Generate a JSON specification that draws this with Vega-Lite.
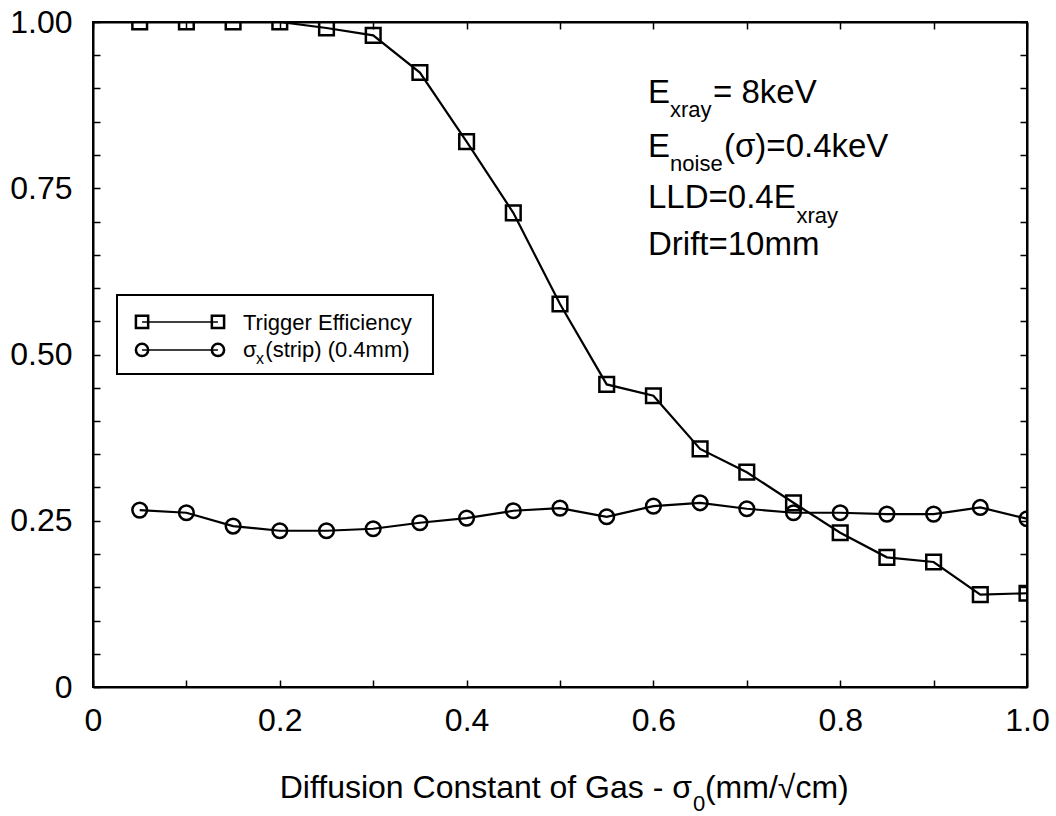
{
  "$schema": "https://vega.github.io/schema/vega-lite/v6.json",
  "width": 934,
  "height": 665,
  "autosize": {"type": "none"},
  "padding": {"left": 93, "top": 22, "right": 29, "bottom": 129},
  "background": "white",
  "config": {
    "font": "Liberation Sans",
    "view": {"stroke": "black", "strokeWidth": 2},
    "axis": {
      "domainColor": "black",
      "domainWidth": 2,
      "tickColor": "black",
      "tickWidth": 1.5,
      "tickSize": -7,
      "labelColor": "black",
      "labelFont": "Liberation Sans",
      "labelFontSize": 32,
      "labelFlush": false,
      "labelOverlap": false,
      "grid": false,
      "title": null
    },
    "text": {"font": "Liberation Sans", "color": "black"}
  },
  "datasets": {
    "curves": [
      {"series": "Trigger Efficiency", "sigma0": 0.05, "value": 1.0},
      {"series": "Trigger Efficiency", "sigma0": 0.10, "value": 1.0},
      {"series": "Trigger Efficiency", "sigma0": 0.15, "value": 1.0},
      {"series": "Trigger Efficiency", "sigma0": 0.20, "value": 1.0},
      {"series": "Trigger Efficiency", "sigma0": 0.25, "value": 0.991},
      {"series": "Trigger Efficiency", "sigma0": 0.30, "value": 0.980},
      {"series": "Trigger Efficiency", "sigma0": 0.35, "value": 0.924},
      {"series": "Trigger Efficiency", "sigma0": 0.40, "value": 0.820},
      {"series": "Trigger Efficiency", "sigma0": 0.45, "value": 0.713},
      {"series": "Trigger Efficiency", "sigma0": 0.50, "value": 0.576},
      {"series": "Trigger Efficiency", "sigma0": 0.55, "value": 0.455},
      {"series": "Trigger Efficiency", "sigma0": 0.60, "value": 0.438},
      {"series": "Trigger Efficiency", "sigma0": 0.65, "value": 0.358},
      {"series": "Trigger Efficiency", "sigma0": 0.70, "value": 0.323},
      {"series": "Trigger Efficiency", "sigma0": 0.75, "value": 0.277},
      {"series": "Trigger Efficiency", "sigma0": 0.80, "value": 0.232},
      {"series": "Trigger Efficiency", "sigma0": 0.85, "value": 0.195},
      {"series": "Trigger Efficiency", "sigma0": 0.90, "value": 0.188},
      {"series": "Trigger Efficiency", "sigma0": 0.95, "value": 0.139},
      {"series": "Trigger Efficiency", "sigma0": 1.00, "value": 0.141},
      {"series": "sigma_x(strip) (0.4mm)", "sigma0": 0.05, "value": 0.266},
      {"series": "sigma_x(strip) (0.4mm)", "sigma0": 0.10, "value": 0.262},
      {"series": "sigma_x(strip) (0.4mm)", "sigma0": 0.15, "value": 0.242},
      {"series": "sigma_x(strip) (0.4mm)", "sigma0": 0.20, "value": 0.235},
      {"series": "sigma_x(strip) (0.4mm)", "sigma0": 0.25, "value": 0.235},
      {"series": "sigma_x(strip) (0.4mm)", "sigma0": 0.30, "value": 0.238},
      {"series": "sigma_x(strip) (0.4mm)", "sigma0": 0.35, "value": 0.247},
      {"series": "sigma_x(strip) (0.4mm)", "sigma0": 0.40, "value": 0.254},
      {"series": "sigma_x(strip) (0.4mm)", "sigma0": 0.45, "value": 0.265},
      {"series": "sigma_x(strip) (0.4mm)", "sigma0": 0.50, "value": 0.269},
      {"series": "sigma_x(strip) (0.4mm)", "sigma0": 0.55, "value": 0.256},
      {"series": "sigma_x(strip) (0.4mm)", "sigma0": 0.60, "value": 0.272},
      {"series": "sigma_x(strip) (0.4mm)", "sigma0": 0.65, "value": 0.277},
      {"series": "sigma_x(strip) (0.4mm)", "sigma0": 0.70, "value": 0.268},
      {"series": "sigma_x(strip) (0.4mm)", "sigma0": 0.75, "value": 0.262},
      {"series": "sigma_x(strip) (0.4mm)", "sigma0": 0.80, "value": 0.262},
      {"series": "sigma_x(strip) (0.4mm)", "sigma0": 0.85, "value": 0.260},
      {"series": "sigma_x(strip) (0.4mm)", "sigma0": 0.90, "value": 0.260},
      {"series": "sigma_x(strip) (0.4mm)", "sigma0": 0.95, "value": 0.270},
      {"series": "sigma_x(strip) (0.4mm)", "sigma0": 1.00, "value": 0.253}
    ],
    "legendBox": [
      {"x": 0.0257, "x2": 0.364, "y": 0.5895, "y2": 0.4707}
    ],
    "legendItems": [
      {"series": "Trigger Efficiency", "x": 0.0525, "y": 0.5489},
      {"series": "Trigger Efficiency", "x": 0.1338, "y": 0.5489},
      {"series": "sigma_x(strip) (0.4mm)", "x": 0.0525, "y": 0.5068},
      {"series": "sigma_x(strip) (0.4mm)", "x": 0.1338, "y": 0.5068}
    ],
    "texts": [
      {"role": "note", "text": "E", "x": 0.5942, "y": 0.8782},
      {"role": "noteSub", "text": "xray", "x": 0.6178, "y": 0.8571},
      {"role": "note", "text": "= 8keV", "x": 0.6638, "y": 0.8782},
      {"role": "note", "text": "E", "x": 0.5942, "y": 0.797},
      {"role": "noteSub", "text": "noise", "x": 0.6178, "y": 0.776},
      {"role": "note", "text": "(σ)=0.4keV", "x": 0.6756, "y": 0.797},
      {"role": "note", "text": "LLD=0.4E", "x": 0.5942, "y": 0.7203},
      {"role": "noteSub", "text": "xray", "x": 0.7532, "y": 0.6977},
      {"role": "note", "text": "Drift=10mm", "x": 0.5942, "y": 0.6496},
      {"role": "titleLead", "text": "Diffusion Constant of Gas - σ", "x": 0.6413, "y": -0.1669},
      {"role": "titleSub", "text": "0", "x": 0.6424, "y": -0.1865},
      {"role": "titleTail", "text": "(mm/√cm)", "x": 0.6552, "y": -0.1669},
      {"role": "legend", "text": "Trigger Efficiency", "x": 0.1606, "y": 0.5368},
      {"role": "legend", "text": "σ", "x": 0.1606, "y": 0.4962},
      {"role": "legendSub", "text": "x", "x": 0.1745, "y": 0.4857},
      {"role": "legend", "text": "(strip) (0.4mm)", "x": 0.1845, "y": 0.4962}
    ]
  },
  "layer": [
    {
      "layer": [
        {
          "data": {"name": "curves"},
          "mark": {"type": "line", "stroke": "black", "strokeWidth": 2.2, "clip": true},
          "encoding": {
            "x": {"field": "sigma0", "type": "quantitative", "scale": {"domain": [0, 1], "nice": false, "zero": false}, "axis": null},
            "y": {"field": "value", "type": "quantitative", "scale": {"domain": [0, 1], "nice": false, "zero": false}, "axis": null},
            "detail": {"field": "series", "type": "nominal"}
          }
        },
        {
          "data": {"name": "curves"},
          "mark": {"type": "point", "filled": false, "stroke": "black", "strokeWidth": 2.5, "size": 215, "opacity": 1, "clip": true},
          "encoding": {
            "x": {"field": "sigma0", "type": "quantitative", "axis": null},
            "y": {"field": "value", "type": "quantitative", "axis": null},
            "shape": {
              "field": "series", "type": "nominal",
              "scale": {"domain": ["Trigger Efficiency", "sigma_x(strip) (0.4mm)"], "range": ["square", "circle"]},
              "legend": null
            }
          }
        },
        {
          "data": {"name": "legendBox"},
          "mark": {"type": "rect", "fill": "white", "stroke": "black", "strokeWidth": 2},
          "encoding": {
            "x": {"field": "x", "type": "quantitative", "axis": null},
            "x2": {"field": "x2"},
            "y": {"field": "y", "type": "quantitative", "axis": null},
            "y2": {"field": "y2"}
          }
        },
        {
          "data": {"name": "legendItems"},
          "mark": {"type": "line", "stroke": "black", "strokeWidth": 1.5},
          "encoding": {
            "x": {"field": "x", "type": "quantitative", "axis": null},
            "y": {"field": "y", "type": "quantitative", "axis": null},
            "detail": {"field": "series", "type": "nominal"}
          }
        },
        {
          "data": {"name": "legendItems"},
          "mark": {"type": "point", "filled": false, "stroke": "black", "strokeWidth": 2.5, "size": 150, "opacity": 1},
          "encoding": {
            "x": {"field": "x", "type": "quantitative", "axis": null},
            "y": {"field": "y", "type": "quantitative", "axis": null},
            "shape": {"field": "series", "type": "nominal", "legend": null}
          }
        },
        {
          "data": {"name": "texts"},
          "transform": [{"filter": "datum.role == 'note'"}],
          "mark": {"type": "text", "fontSize": 33, "align": "left", "baseline": "alphabetic"},
          "encoding": {
            "x": {"field": "x", "type": "quantitative", "axis": null},
            "y": {"field": "y", "type": "quantitative", "axis": null},
            "text": {"field": "text"}
          }
        },
        {
          "data": {"name": "texts"},
          "transform": [{"filter": "datum.role == 'noteSub'"}],
          "mark": {"type": "text", "fontSize": 22, "align": "left", "baseline": "alphabetic"},
          "encoding": {
            "x": {"field": "x", "type": "quantitative", "axis": null},
            "y": {"field": "y", "type": "quantitative", "axis": null},
            "text": {"field": "text"}
          }
        },
        {
          "data": {"name": "texts"},
          "transform": [{"filter": "datum.role == 'titleLead'"}],
          "mark": {"type": "text", "fontSize": 32, "align": "right", "baseline": "alphabetic"},
          "encoding": {
            "x": {"field": "x", "type": "quantitative", "axis": null},
            "y": {"field": "y", "type": "quantitative", "axis": null},
            "text": {"field": "text"}
          }
        },
        {
          "data": {"name": "texts"},
          "transform": [{"filter": "datum.role == 'titleTail'"}],
          "mark": {"type": "text", "fontSize": 32, "align": "left", "baseline": "alphabetic"},
          "encoding": {
            "x": {"field": "x", "type": "quantitative", "axis": null},
            "y": {"field": "y", "type": "quantitative", "axis": null},
            "text": {"field": "text"}
          }
        },
        {
          "data": {"name": "texts"},
          "transform": [{"filter": "datum.role == 'titleSub'"}],
          "mark": {"type": "text", "fontSize": 22, "align": "left", "baseline": "alphabetic"},
          "encoding": {
            "x": {"field": "x", "type": "quantitative", "axis": null},
            "y": {"field": "y", "type": "quantitative", "axis": null},
            "text": {"field": "text"}
          }
        },
        {
          "data": {"name": "texts"},
          "transform": [{"filter": "datum.role == 'legend'"}],
          "mark": {"type": "text", "fontSize": 22, "align": "left", "baseline": "alphabetic"},
          "encoding": {
            "x": {"field": "x", "type": "quantitative", "axis": null},
            "y": {"field": "y", "type": "quantitative", "axis": null},
            "text": {"field": "text"}
          }
        },
        {
          "data": {"name": "texts"},
          "transform": [{"filter": "datum.role == 'legendSub'"}],
          "mark": {"type": "text", "fontSize": 16, "align": "left", "baseline": "alphabetic"},
          "encoding": {
            "x": {"field": "x", "type": "quantitative", "axis": null},
            "y": {"field": "y", "type": "quantitative", "axis": null},
            "text": {"field": "text"}
          }
        }
      ]
    },
    {
      "data": {"name": "curves"},
      "mark": {"type": "point", "opacity": 0},
      "encoding": {
        "x": {
          "field": "sigma0", "type": "quantitative",
          "scale": {"domain": [0, 1], "nice": false, "zero": false},
          "axis": {
            "orient": "bottom",
            "values": [0, 0.1, 0.2, 0.3, 0.4, 0.5, 0.6, 0.7, 0.8, 0.9, 1.0],
            "labelExpr": "datum.value == 0 ? '0' : (round(datum.value * 10) % 2 == 0 ? format(datum.value, '.1f') : '')",
            "labelPadding": 25,
            "title": null
          }
        },
        "y": {
          "field": "value", "type": "quantitative",
          "scale": {"domain": [0, 1], "nice": false, "zero": false},
          "axis": {
            "orient": "left",
            "values": [0, 0.05, 0.1, 0.15, 0.2, 0.25, 0.3, 0.35, 0.4, 0.45, 0.5, 0.55, 0.6, 0.65, 0.7, 0.75, 0.8, 0.85, 0.9, 0.95, 1.0],
            "labelExpr": "datum.value == 0 ? '0' : (abs(datum.value * 4 - round(datum.value * 4)) < 0.001 ? format(datum.value, '.2f') : '')",
            "labelPadding": 28,
            "title": null
          }
        }
      }
    },
    {
      "data": {"name": "curves"},
      "mark": {"type": "point", "opacity": 0},
      "encoding": {
        "x": {
          "field": "sigma0", "type": "quantitative",
          "scale": {"domain": [0, 1], "nice": false, "zero": false},
          "axis": {"orient": "top", "values": [0, 0.1, 0.2, 0.3, 0.4, 0.5, 0.6, 0.7, 0.8, 0.9, 1.0], "labels": false, "title": null}
        },
        "y": {
          "field": "value", "type": "quantitative",
          "scale": {"domain": [0, 1], "nice": false, "zero": false},
          "axis": {"orient": "right", "values": [0, 0.05, 0.1, 0.15, 0.2, 0.25, 0.3, 0.35, 0.4, 0.45, 0.5, 0.55, 0.6, 0.65, 0.7, 0.75, 0.8, 0.85, 0.9, 0.95, 1.0], "labels": false, "title": null}
        }
      }
    }
  ],
  "resolve": {"axis": {"x": "independent", "y": "independent"}}
}
